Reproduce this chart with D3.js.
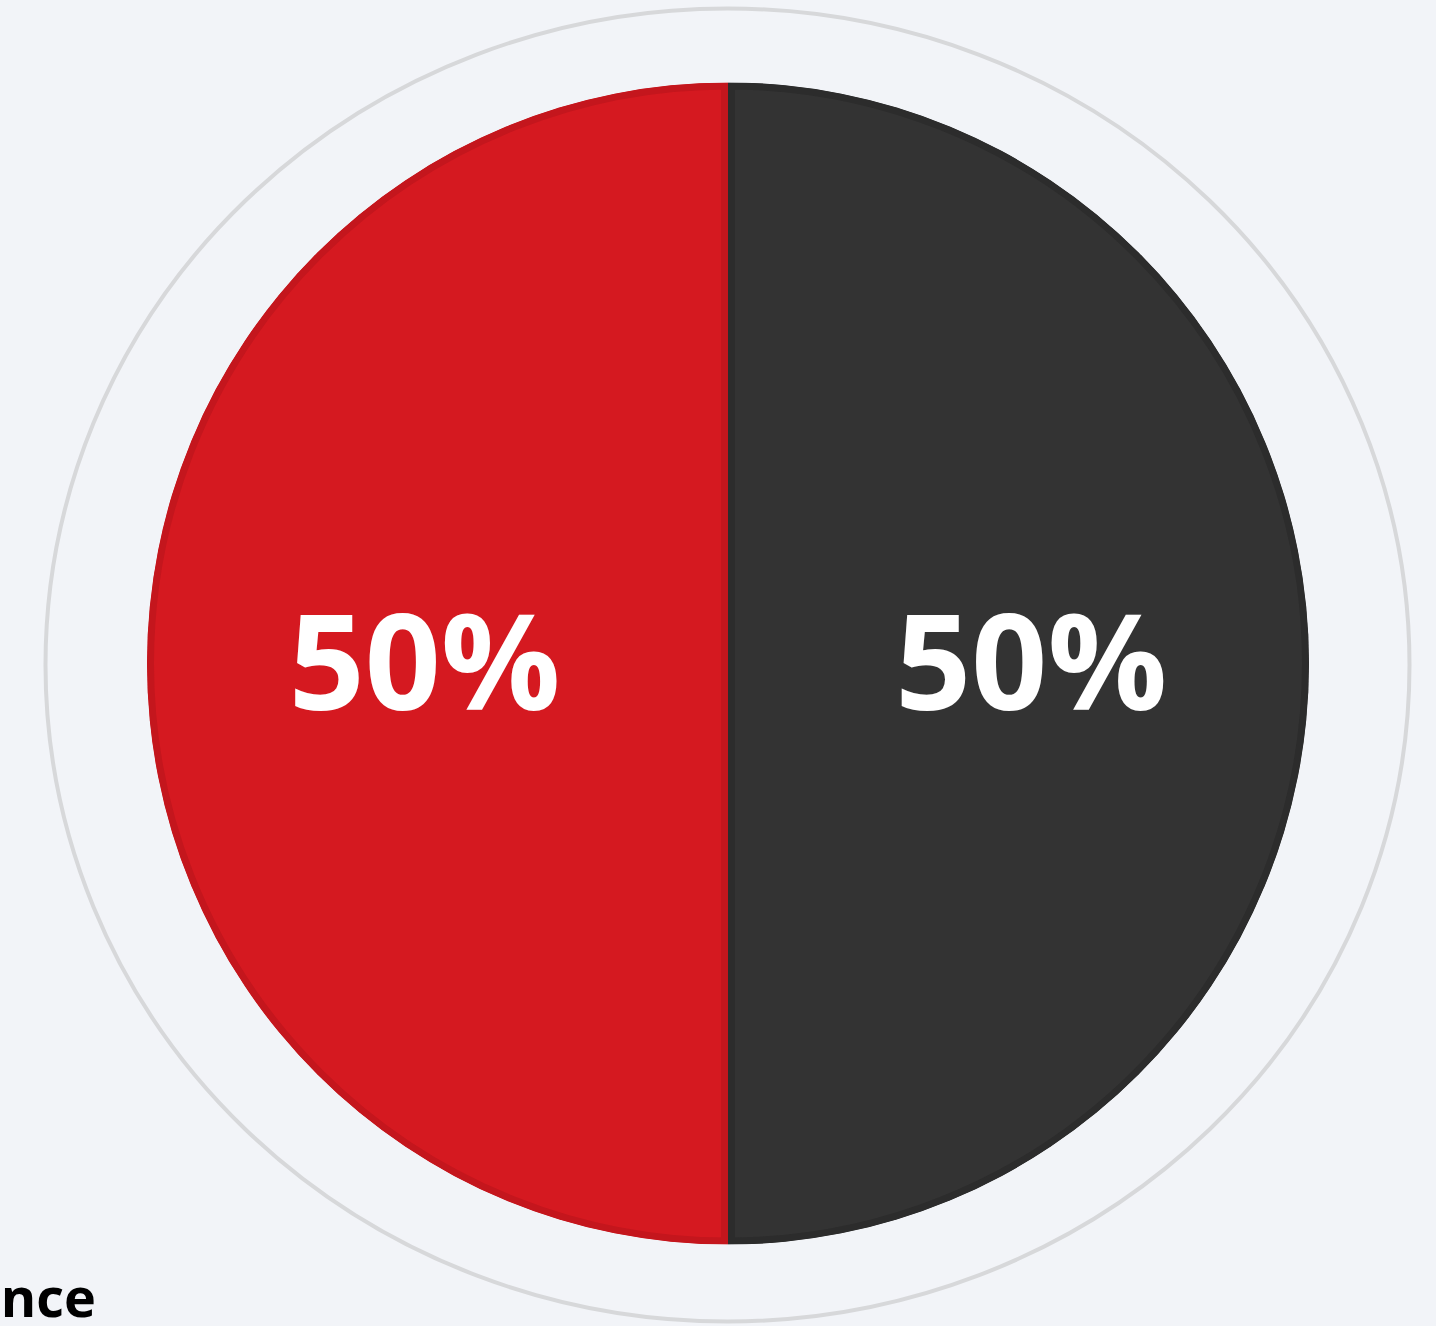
<!DOCTYPE html>
<html lang="en">
<head>
    <meta charset="utf-8" />
    <style>
        body { margin: 0; background: #f2f4f8; }
        svg { display: block; font-family: "Open Sans", "Noto Sans", sans-serif; }
        .label { fill: #fff; font-weight: 700; font-size: 133px; }
        .caption { fill: #000; font-weight: 700; font-size: 54px; }
    </style>
</head>
<body>
<svg width="1436" height="1326"></svg>
<script src="https://cdn.jsdelivr.net/npm/d3@7"></script>
<script>

    var categories = ["Second", "First"],
        values = [50, 50],
        colors = ["#333333", "#d51920"],
        strokes = ["#2c2c2c", "#c4161d"],
        caption = "Balance";

    var svg = d3.select("svg"),
        cx = 728,
        cy = 663.5,
        radius = 581;

    // faint outer ring
    svg.append("ellipse")
        .attr("cx", 727.5)
        .attr("cy", 665)
        .attr("rx", 682)
        .attr("ry", 656.5)
        .attr("fill", "none")
        .attr("stroke", "#d7d8da")
        .attr("stroke-width", 4);

    var pie = d3.pie().sort(null).value(function(d) { return d; }),
        arc = d3.arc().innerRadius(0).outerRadius(radius),
        labelArc = d3.arc().innerRadius(radius * 0.522).outerRadius(radius * 0.522);

    var g = svg.append("g").attr("transform", "translate(" + cx + "," + cy + ")");
    var arcs = pie(values);

    var defs = svg.append("defs");
    arcs.forEach(function(d, i) {
        defs.append("clipPath").attr("id", "clip" + i)
            .append("path").attr("d", arc(d));
    });

    // each slice keeps its inner border inside itself
    g.selectAll(".slice")
        .data(arcs)
        .enter()
        .append("path")
        .attr("class", "slice")
        .attr("d", arc)
        .attr("fill", function(d, i) { return colors[i]; })
        .attr("stroke", function(d, i) { return strokes[i]; })
        .attr("stroke-width", 14)
        .attr("clip-path", function(d, i) { return "url(#clip" + i + ")"; });

    g.selectAll(".label")
        .data(arcs)
        .enter()
        .append("text")
        .attr("class", "label")
        .attr("text-anchor", "middle")
        .attr("x", function(d) { return labelArc.centroid(d)[0]; })
        .attr("y", function(d) { return labelArc.centroid(d)[1] + 46; })
        .text(function(d) { return d3.format(".0f")(d.value) + "%"; });

    svg.append("text")
        .attr("class", "caption")
        .attr("text-anchor", "end")
        .attr("x", 96)
        .attr("y", 1317)
        .text(caption);

</script>
</body>
</html>
